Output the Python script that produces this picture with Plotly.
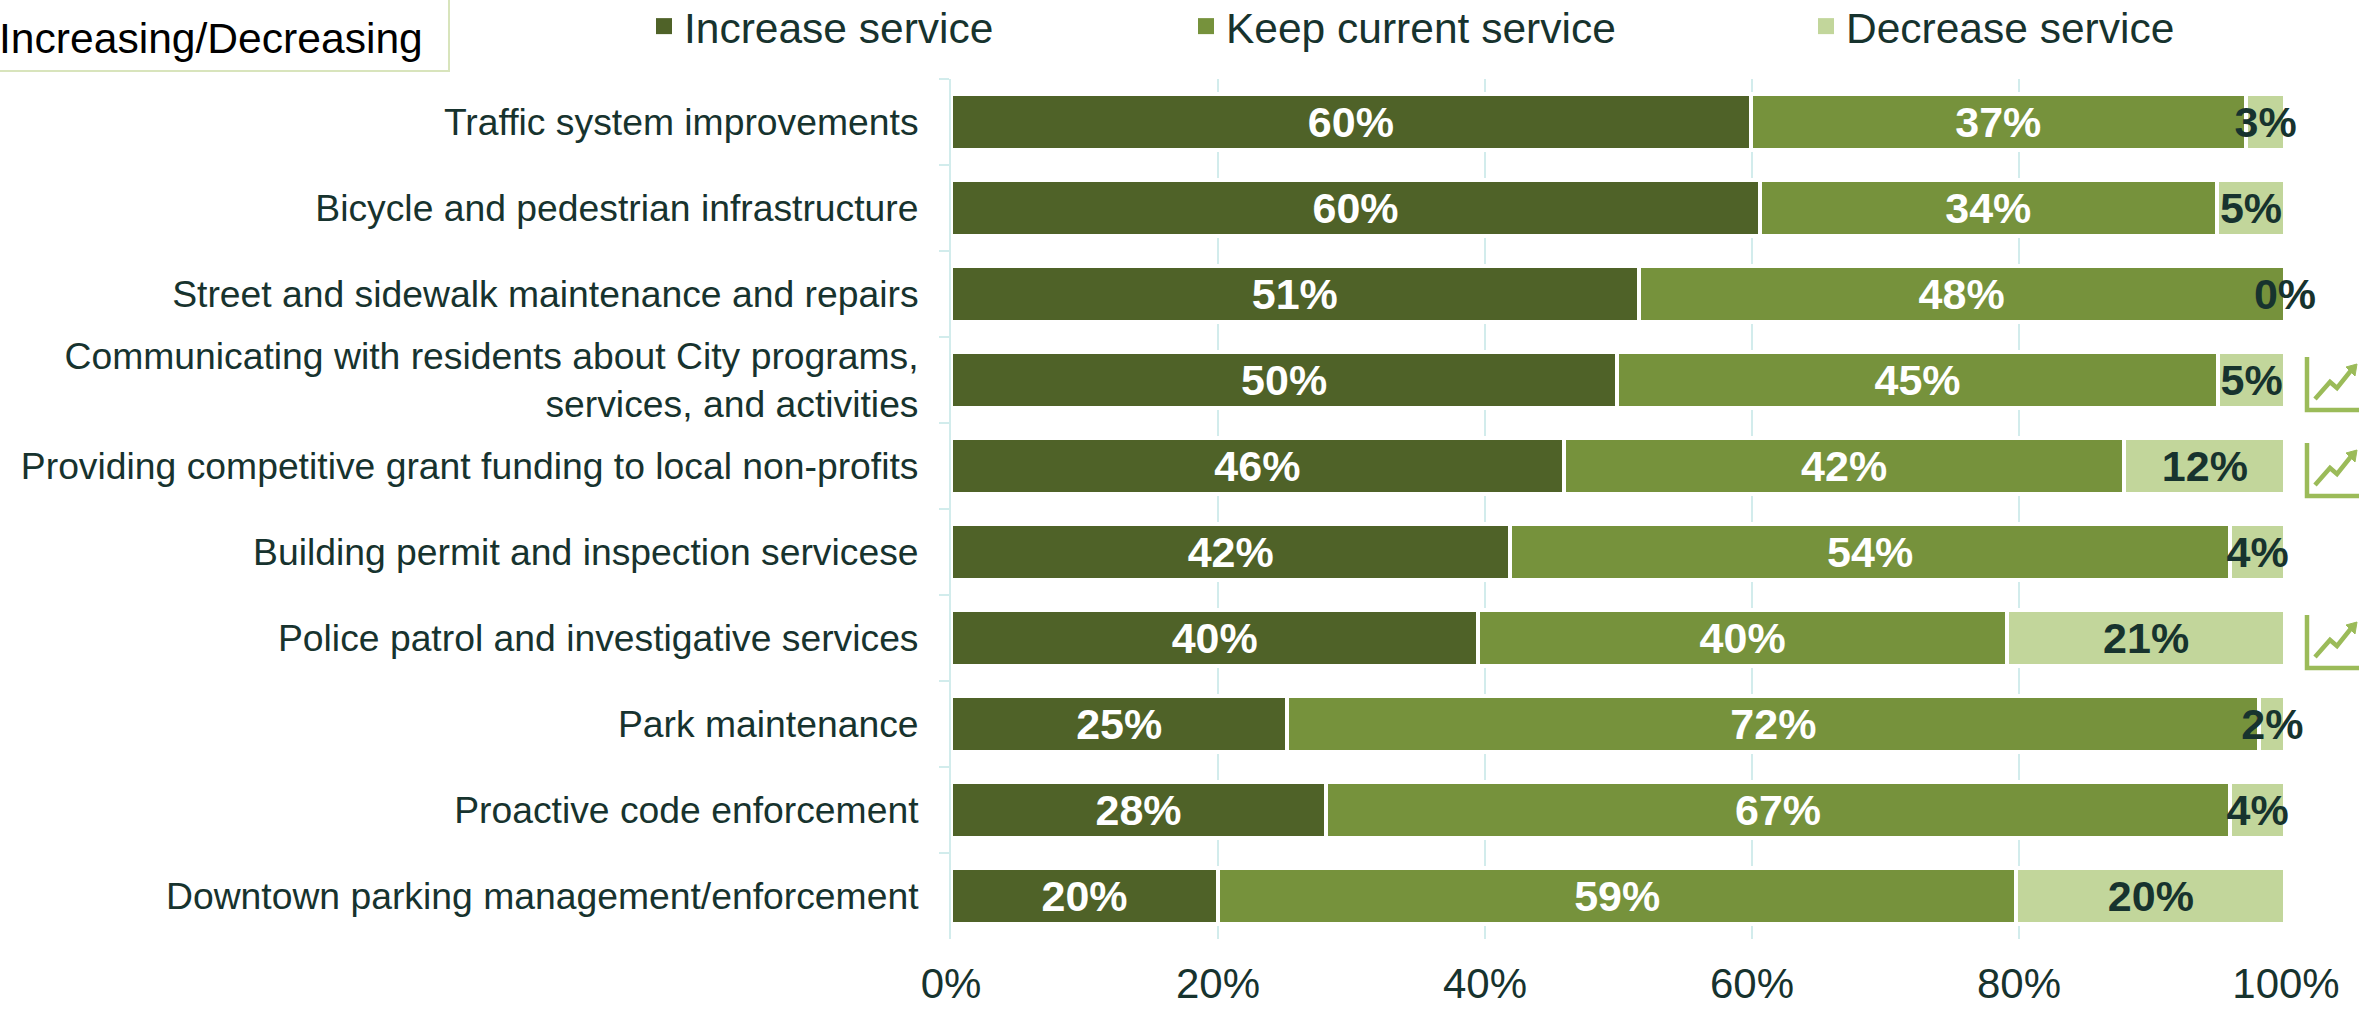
import plotly.graph_objects as go

categories = [
    "Traffic system improvements",
    "Bicycle and pedestrian infrastructure",
    "Street and sidewalk maintenance and repairs",
    "Communicating with residents about City programs,<br>services, and activities",
    "Providing competitive grant funding to local non-profits",
    "Building permit and inspection servicese",
    "Police patrol and investigative services",
    "Park maintenance",
    "Proactive code enforcement",
    "Downtown parking management/enforcement",
]
increase = [59.9, 60.6, 51.5, 49.9, 45.9, 41.9, 39.5, 25.2, 28.1, 20.0]
keep = [37.1, 34.2, 48.4, 45.0, 42.0, 53.9, 39.6, 72.8, 67.7, 59.8]
decrease = [2.95, 5.15, 0.05, 5.05, 12.05, 4.15, 20.85, 1.95, 4.15, 20.15]
increase_labels = ["60%", "60%", "51%", "50%", "46%", "42%", "40%", "25%", "28%", "20%"]
keep_labels = ["37%", "34%", "48%", "45%", "42%", "54%", "40%", "72%", "67%", "59%"]
decrease_labels = ["3%", "5%", "0%", "5%", "12%", "4%", "21%", "2%", "4%", "20%"]
trend_rows = [3, 4, 6]
x_ticks = [0, 20, 40, 60, 80, 100]
x_tick_labels = ["0%", "20%", "40%", "60%", "80%", "100%"]

FONT = "Liberation Sans, Arial, sans-serif"
INK = "#17332E"
GRID = "#D2ECEC"
C_INC, C_KEEP, C_DEC = "#4F6228", "#76923C", "#C2D69B"
ICON = "#9BBB59"
W, H = 2361, 1009
L, R, T, B = 951, 75, 79, 70

fig = go.Figure()
series = [
    ("Increase service", increase, increase_labels, C_INC, "white"),
    ("Keep current service", keep, keep_labels, C_KEEP, "white"),
    ("Decrease service", decrease, decrease_labels, C_DEC, INK),
]
for name, vals, labels, col, tcol in series:
    fig.add_trace(go.Bar(
        y=categories, x=vals, name=name, orientation="h", showlegend=False,
        text=labels, textposition="inside", insidetextanchor="middle",
        textangle=0, constraintext="none", cliponaxis=False,
        textfont=dict(family=FONT, size=43, color=tcol, weight="bold"),
        marker=dict(color=col, line=dict(color="white", width=4)),
    ))

legend_px = [644, 1186, 1806]
for i, ((name, _, _, col, _), px) in enumerate(zip(series, legend_px)):
    key = "legend" if i == 0 else f"legend{i + 1}"
    fig.add_trace(go.Scatter(
        x=[None], y=[None], name=name, mode="markers", legend=key, showlegend=True,
        marker=dict(symbol="square", size=16, color=col),
    ))
    fig.update_layout({key: dict(
        x=(px - L) / (W - L - R), xanchor="left", xref="paper",
        y=1 + (T + 8) / (H - T - B), yanchor="top", yref="paper",
        orientation="h", bgcolor="rgba(0,0,0,0)", borderwidth=0,
        font=dict(family=FONT, size=42.5, color=INK),
    )})

fig.update_layout(
    width=W, height=H, autosize=False,
    margin=dict(l=L, r=R, t=T, b=B, pad=0, autoexpand=False),
    barmode="stack", bargap=0.36,
    paper_bgcolor="white", plot_bgcolor="white",
    font=dict(family=FONT, color=INK),
    xaxis=dict(range=[0, 100], tickvals=x_ticks, ticktext=x_tick_labels,
               showgrid=True, gridcolor=GRID, gridwidth=2, zeroline=False,
               showline=False, ticks="", tickfont=dict(size=42, color=INK, family=FONT),
               ticklabelstandoff=16),
    yaxis=dict(autorange="reversed", showgrid=False, showline=True, linecolor=GRID,
               linewidth=2, ticks="outside", ticklen=10, tickwidth=2, tickcolor=GRID,
               tickson="boundaries", ticklabelstandoff=23,
               tickfont=dict(size=37.3, color=INK, family=FONT)),
)

# trend icons, anchored to their category rows
shapes = []
for r in trend_rows:
    base = dict(xref="paper", yref="y", xsizemode="pixel", ysizemode="pixel",
                xanchor=1, yanchor=categories[r], type="path")
    shapes.append(dict(base, path="M 21,23 L 21,-30 L 73,-30", line=dict(color=ICON, width=4.5)))
    shapes.append(dict(base, path="M 29,-19 L 44,-2 L 51,-8 L 67,12", line=dict(color=ICON, width=4.5)))
    shapes.append(dict(base, path="M 71,16 L 60,13 L 69,4 Z", line=dict(color=ICON, width=1), fillcolor=ICON))
fig.update_layout(shapes=shapes)

# title box in the top-left corner
fig.add_annotation(
    text="Increasing/Decreasing", xref="paper", yref="paper",
    x=-L / (W - L - R), y=1 + (T - 64) / (H - T - B),
    xanchor="left", yanchor="bottom", align="left", showarrow=False,
    font=dict(family=FONT, size=42.6, color="black"),
    xshift=-3,
)
fig.add_shape(type="rect", xref="paper", yref="paper",
              x0=-(L + 4) / (W - L - R), x1=(449 - L) / (W - L - R),
              y0=1 + (T - 71) / (H - T - B), y1=1 + (T + 4) / (H - T - B),
              line=dict(color="#D8E4BC", width=2), fillcolor="rgba(0,0,0,0)")

fig.write_html("out.html", config=dict(displayModeBar=False),
               post_script="document.body.style.margin='0';")
